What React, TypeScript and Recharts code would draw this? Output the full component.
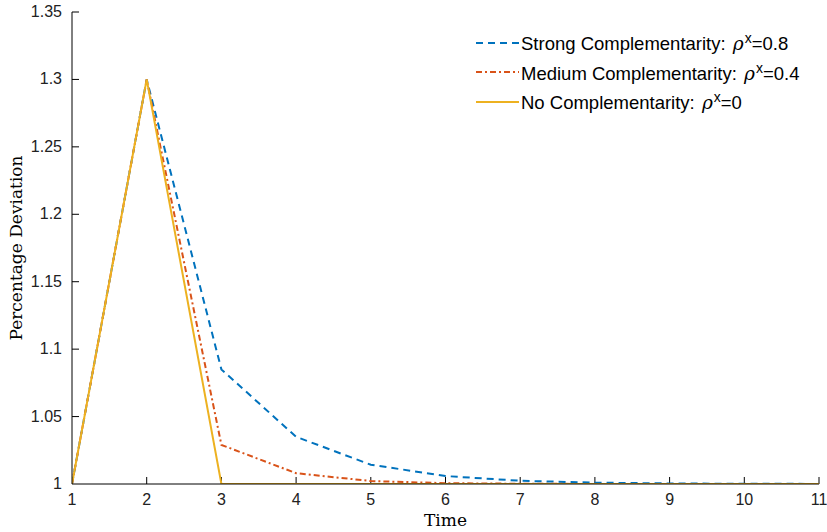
import React from "react";
import { LineChart, Line, XAxis, YAxis, ReferenceLine } from "recharts";

const times = [1, 2, 3, 4, 5, 6, 7, 8, 9, 10, 11];
const strong = [1, 1.3, 1.085, 1.035, 1.0143, 1.0059, 1.0024, 1.001, 1.0004, 1.00016, 1.00007];
const medium = [1, 1.3, 1.029, 1.008, 1.0022, 1.0006, 1.00017, 1.00005, 1.00001, 1, 1];
const none = [1, 1.3, 1, 1, 1, 1, 1, 1, 1, 1, 1];

const xTicks = [1, 2, 3, 4, 5, 6, 7, 8, 9, 10, 11];
const yTicks = [1, 1.05, 1.1, 1.15, 1.2, 1.25, 1.3, 1.35];

const BLUE = "#0072BD";
const ORANGE = "#D95319";
const YELLOW = "#EDB120";
const SANS = "'Liberation Sans', Arial, sans-serif";
const SERIF = "'DejaVu Serif', 'Liberation Serif', serif";
const X_GAP = 18;
const Y_GAP = 10;
// inward tick length, in data units (~7px each way)
const X_TICK_LEN = 0.0052;
const Y_TICK_LEN = 0.094;

const series = [
  { key: "strong", color: BLUE, dash: "7 5", label: "Strong Complementarity: ", rho: "0.8" },
  { key: "medium", color: ORANGE, dash: "6 3 2 3", label: "Medium Complementarity: ", rho: "0.4" },
  { key: "none", color: YELLOW, dash: undefined, label: "No Complementarity: ", rho: "0" },
];

const data = times.map((t, i) => ({ t, strong: strong[i], medium: medium[i], none: none[i] }));

function XTick(props: any) {
  const { x, y, payload } = props;
  return (
    <text x={x} y={y} dy={3} textAnchor="middle" fontFamily={SANS} fontSize={16} fill="#222">
      {payload.value}
    </text>
  );
}

function YTick(props: any) {
  const { x, y, payload } = props;
  return (
    <text x={x} y={y} dy={5} textAnchor="end" fontFamily={SANS} fontSize={16} fill="#222">
      {String(Math.round(payload.value * 100) / 100)}
    </text>
  );
}

function LegendBox() {
  return (
    <div style={{ position: "absolute", left: 474, top: 28, fontFamily: SANS, fontSize: 18.5, color: "#000" }}>
      {series.map((s) => (
        <div key={s.key} style={{ display: "flex", alignItems: "center", height: 29.5 }}>
          <svg width={47} height={10}>
            <line x1={2} x2={45} y1={5} y2={5} stroke={s.color} strokeWidth={2} strokeDasharray={s.dash} />
          </svg>
          <span style={{ whiteSpace: "nowrap" }}>
            {s.label}
            <span style={{ fontFamily: SERIF, fontStyle: "italic", marginLeft: 2 }}>ρ</span>
            <sup style={{ fontSize: 14, verticalAlign: "7px", marginLeft: 1 }}>x</sup>={s.rho}
          </span>
        </div>
      ))}
    </div>
  );
}

export default function App() {
  return (
    <div style={{ position: "absolute", left: 0, top: 0, width: 827, height: 532, background: "#fff" }}>
      <LineChart width={827} height={532} data={data} margin={{ top: 12, right: 8, bottom: 0, left: 0 }}>
        <XAxis
          dataKey="t"
          type="number"
          domain={[1, 11]}
          ticks={xTicks}
          allowDataOverflow
          height={48}
          stroke="#000"
          tickLine={false}
          tickSize={0}
          tickMargin={X_GAP}
          tick={<XTick />}
          label={{ value: "Time", position: "insideBottom", offset: 6, style: { fontFamily: SERIF, fontSize: 17, fill: "#000" } }}
        />
        <YAxis
          type="number"
          domain={[1, 1.35]}
          ticks={yTicks}
          allowDataOverflow
          width={72}
          stroke="#000"
          tickLine={false}
          tickSize={0}
          tickMargin={Y_GAP}
          tick={<YTick />}
          label={{ value: "Percentage Deviation", angle: -90, position: "insideLeft", offset: 16, style: { fontFamily: SERIF, fontSize: 17, fill: "#000", textAnchor: "middle" } }}
        />
        {xTicks.slice(1).map((t) => (
          <ReferenceLine
            key={`xt${t}`}
            segment={[{ x: t, y: 1 }, { x: t, y: 1 + X_TICK_LEN }]}
            stroke="#000"
            strokeWidth={1}
          />
        ))}
        {yTicks.slice(1).map((v) => (
          <ReferenceLine
            key={`yt${v}`}
            segment={[{ x: 1, y: v }, { x: 1 + Y_TICK_LEN, y: v }]}
            stroke="#000"
            strokeWidth={1}
          />
        ))}
        {series.map((s) => (
          <Line
            key={s.key}
            dataKey={s.key}
            type="linear"
            stroke={s.color}
            strokeWidth={2}
            strokeDasharray={s.dash}
            dot={false}
            activeDot={false}
            isAnimationActive={false}
          />
        ))}
      </LineChart>
      <LegendBox />
    </div>
  );
}
